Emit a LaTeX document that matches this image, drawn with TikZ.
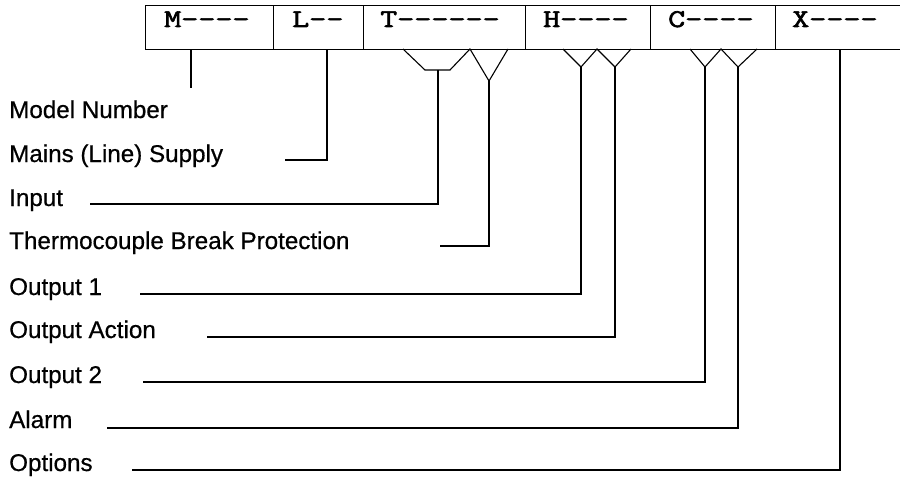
\documentclass[tikz,border=0pt]{standalone}
\usepackage{fontspec}
\setmainfont[FakeBold=0.6]{Liberation Sans}
\newfontfamily\codefont[FakeStretch=1.3,FakeBold=2.5]{Latin Modern Mono}
\begin{document}
\begin{tikzpicture}[x=1pt,y=-1pt,
  field/.style={draw,line width=1.2pt,minimum height=44pt,anchor=north west,inner sep=0pt},
  code/.style={anchor=base west,inner sep=0pt,font=\codefont\fontsize{25.5}{26}\selectfont},
  lbl/.style={anchor=base west,inner sep=0pt,font=\fontsize{24.2}{25}\selectfont},
  conn/.style={line width=1.1pt,line join=miter}]
\useasboundingbox (0,0) rectangle (900,479);
% fields
\node[field,minimum width=128pt] (M) at (145,5) {};
\node[field,minimum width=90pt]  (L) at (273,5) {};
\node[field,minimum width=162pt] (T) at (363,5) {};
\node[field,minimum width=125pt] (H) at (525,5) {};
\node[field,minimum width=125pt] (C) at (650,5) {};
\node[field,minimum width=130pt] (X) at (775,5) {};
\node[code] (tM) at (164,27) {M-{}-{}-{}-};
\node[code] (tL) at (292,27) {L-{}-};
\node[code] (tT) at (380,27) {T-{}-{}-{}-{}-{}-};
\node[code] (tH) at (543,27) {H-{}-{}-{}-};
\node[code] (tC) at (668,27) {C-{}-{}-{}-};
\node[code] (tX) at (792,27) {X-{}-{}-{}-};
% labels
\node[lbl] (lModel) at (9,118) {Model Number};
\node[lbl] (lMains) at (9,162) {Mains (Line) Supply};
\node[lbl] (lInput) at (9,206) {Input};
\node[lbl] (lTC)    at (9,249) {Thermocouple Break Protection};
\node[lbl] (lOut1)  at (9,295) {Output 1};
\node[lbl] (lAct)   at (9,338) {Output Action};
\node[lbl] (lOut2)  at (9,383) {Output 2};
\node[lbl] (lAlarm) at (9,428) {Alarm};
\node[lbl] (lOpt)   at (9,471) {Options};
% fork points
\coordinate (mTop) at (191,49);  \coordinate (mEnd) at (191,88);
\coordinate (lTop) at (327,49);  \coordinate (lEnd) at (285,160);
\coordinate (tA) at (403,49); \coordinate (tB) at (425,70); \coordinate (tC2) at (450,70); \coordinate (tD) at (470,49);
\coordinate (tV) at (489,81); \coordinate (tE) at (508,49);
\coordinate (tIn) at (438,70);
\coordinate (inEnd) at (90,204);
\coordinate (tcEnd) at (440,246);
\coordinate (hA) at (563,49); \coordinate (hV1) at (581,67); \coordinate (hB) at (597,49);
\coordinate (hV2) at (615,67); \coordinate (hC) at (631,49);
\coordinate (o1End) at (140,294);
\coordinate (oaEnd) at (207,337);
\coordinate (cA) at (690,49); \coordinate (cV1) at (705,67); \coordinate (cB) at (721,49);
\coordinate (cV2) at (738,67); \coordinate (cC) at (757,49);
\coordinate (o2End) at (143,382);
\coordinate (alEnd) at (107,428);
\coordinate (xTop) at (840,49); \coordinate (opEnd) at (132,470);
% connectors
\draw[conn] (mTop) -- (mEnd);
\draw[conn] (lTop) |- (lEnd);
\draw[conn] (tA) -- (tB) -- (tC2) -- (tD) -- (tV) -- (tE);
\draw[conn] (tIn) |- (inEnd);
\draw[conn] (tV) |- (tcEnd);
\draw[conn] (hA) -- (hV1) -- (hB) -- (hV2) -- (hC);
\draw[conn] (hV1) |- (o1End);
\draw[conn] (hV2) |- (oaEnd);
\draw[conn] (cA) -- (cV1) -- (cB) -- (cV2) -- (cC);
\draw[conn] (cV1) |- (o2End);
\draw[conn] (cV2) |- (alEnd);
\draw[conn] (xTop) |- (opEnd);
\end{tikzpicture}
\end{document}
